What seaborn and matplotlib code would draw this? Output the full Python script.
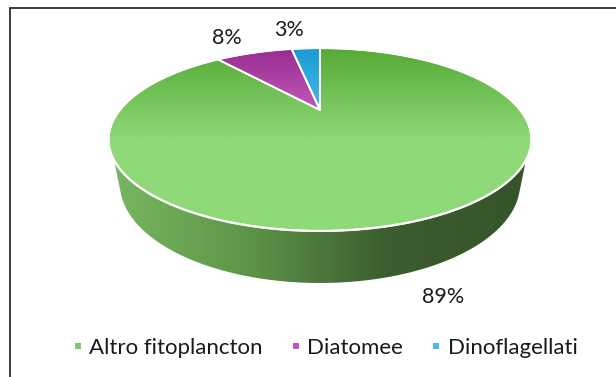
import numpy as np
import matplotlib
matplotlib.use("Agg")
import matplotlib.pyplot as plt
from matplotlib.patches import Polygon
from matplotlib.lines import Line2D
import seaborn as sns

# Composizione del fitoplancton (%)
categories = ["Altro fitoplancton", "Diatomee", "Dinoflagellati"]
shares = [89, 8, 3]
pct_labels = ["89%", "8%", "3%"]

# Colori delle fette: (bordo lontano, bordo vicino) del gradiente della faccia superiore
top_colors = [("#56aa36", "#8fd978"), ("#982c90", "#d56fce"), ("#1a9bd4", "#5ec9f2")]
legend_colors = ["#7dcc62", "#c455bf", "#4cb9ea"]
side_colors = ["#78b861", "#5e9449", "#3c5d2f", "#36542a"]

sns.set_theme(style="white")
plt.rcParams["font.family"] = ["Lato", "DejaVu Sans"]

W, H = 616, 377
fig = plt.figure(figsize=(W / 100, H / 100), dpi=100)
ax = fig.add_axes([0, 0, 1, 1])
ax.set_xlim(0, W)
ax.set_ylim(H, 0)
ax.axis("off")

# Geometria della torta in prospettiva (coordinate in pixel)
CX, CY = 320.0, 110.0
RA, RB, K = 200.2, 82.0, -0.322
# base del cilindro: spostamento verticale e scale orizzontale/verticale
BASE_DY, BASE_SX, BASE_SY = 42.0, 0.946, 1.083
# arco frontale in cui il fianco e' visibile (gradi, senso orario dalle ore 12)
SIDE_FROM, SIDE_TO = 120.7, 239.3


def project(theta, sx=1.0, sy=1.0, dy=0.0):
    """Angolo in senso orario dalle ore 12 -> punto sullo schermo."""
    u = np.sin(theta)
    v = -np.cos(theta)
    w = 1 + K * v
    return np.column_stack([CX + sx * RA * u / w, CY + dy + sy * RB * v / w])


def convex_hull(pts):
    pts = sorted(map(tuple, pts))
    def cross(o, a, b):
        return (a[0] - o[0]) * (b[1] - o[1]) - (a[1] - o[1]) * (b[0] - o[0])
    lower, upper = [], []
    for p in pts:
        while len(lower) >= 2 and cross(lower[-2], lower[-1], p) <= 0:
            lower.pop()
        lower.append(p)
    for p in reversed(pts):
        while len(upper) >= 2 and cross(upper[-2], upper[-1], p) <= 0:
            upper.pop()
        upper.append(p)
    return np.array(lower[:-1] + upper[:-1])


def gradient_fill(patch, cmap, extent, horizontal=False, zorder=1):
    grad = np.linspace(0, 1, 256)
    img = grad[None, :] if horizontal else grad[:, None]
    im = ax.imshow(img, cmap=cmap, extent=extent, origin="upper",
                   aspect="auto", interpolation="bilinear", zorder=zorder)
    ax.add_patch(patch)
    im.set_clip_path(patch)


full = np.linspace(0, 2 * np.pi, 721)
top_ring = project(full)

# Fianco del cilindro: arco frontale superiore + base
front = np.radians(np.linspace(SIDE_FROM, SIDE_TO, 241))
base_theta = np.radians(np.linspace(90, 270, 361))
side_pts = np.vstack([project(front), project(base_theta, BASE_SX, BASE_SY, BASE_DY)])
hull = convex_hull(side_pts)
side_patch = Polygon(hull, closed=True, facecolor="none", edgecolor="none", zorder=1)
side_cmap = sns.blend_palette(side_colors, as_cmap=True)
gradient_fill(side_patch, side_cmap, (110, 525, 300, 40), horizontal=True, zorder=1)

# Faccia superiore: una fetta per categoria, in senso orario dalle ore 12
fractions = np.array(shares, dtype=float) / np.sum(shares)
edges = np.concatenate([[0], np.cumsum(fractions)]) * 2 * np.pi
apex = project(np.array([0.0]), sx=0.0, sy=0.0)[0]
ytop, ybot = top_ring[:, 1].min(), top_ring[:, 1].max()
for i, (c_far, c_near) in enumerate(top_colors):
    th = np.linspace(edges[i], edges[i + 1], max(int(400 * fractions[i]), 8))
    arc = project(th)
    poly = np.vstack([apex, arc])
    patch = Polygon(poly, closed=True, facecolor="none", edgecolor="none", zorder=2)
    cmap = sns.blend_palette([c_far, c_near, c_near], as_cmap=True)
    gradient_fill(patch, cmap, (100, 540, ybot, ytop), zorder=2)
    ax.add_patch(Polygon(poly, closed=True, facecolor="none", edgecolor="white",
                         lw=1.3, joinstyle="round", zorder=3))

# Bordo bianco della faccia superiore
ax.plot(top_ring[:, 0], top_ring[:, 1], color="white", lw=1.6, zorder=3)

# Etichette percentuali
label_xy = [(443, 297), (227, 38), (289, 30)]
for txt, (lx, ly) in zip(pct_labels, label_xy):
    ax.text(lx, ly, txt, ha="center", va="center", fontsize=15.5, color="#1a1a1a", zorder=4)

# Cornice dell'area del grafico
ax.plot([9.5, 9.5, W], [H, 7.5, 7.5], color="#2b2b2b", lw=1.3, zorder=5,
        solid_joinstyle="miter", clip_on=False)

# Legenda
handles = [Line2D([], [], ls="", marker="s", markersize=4.2, color=c,
                  markeredgewidth=0) for c in legend_colors]
ax.legend(handles, categories, loc="center", bbox_to_anchor=(325 / W, 1 - 348 / H),
          ncol=3, frameon=False, fontsize=16, handlelength=0.5, handletextpad=0.25,
          columnspacing=1.25, borderaxespad=0, labelcolor="#1a1a1a")

fig.savefig("out.png", dpi=100)
